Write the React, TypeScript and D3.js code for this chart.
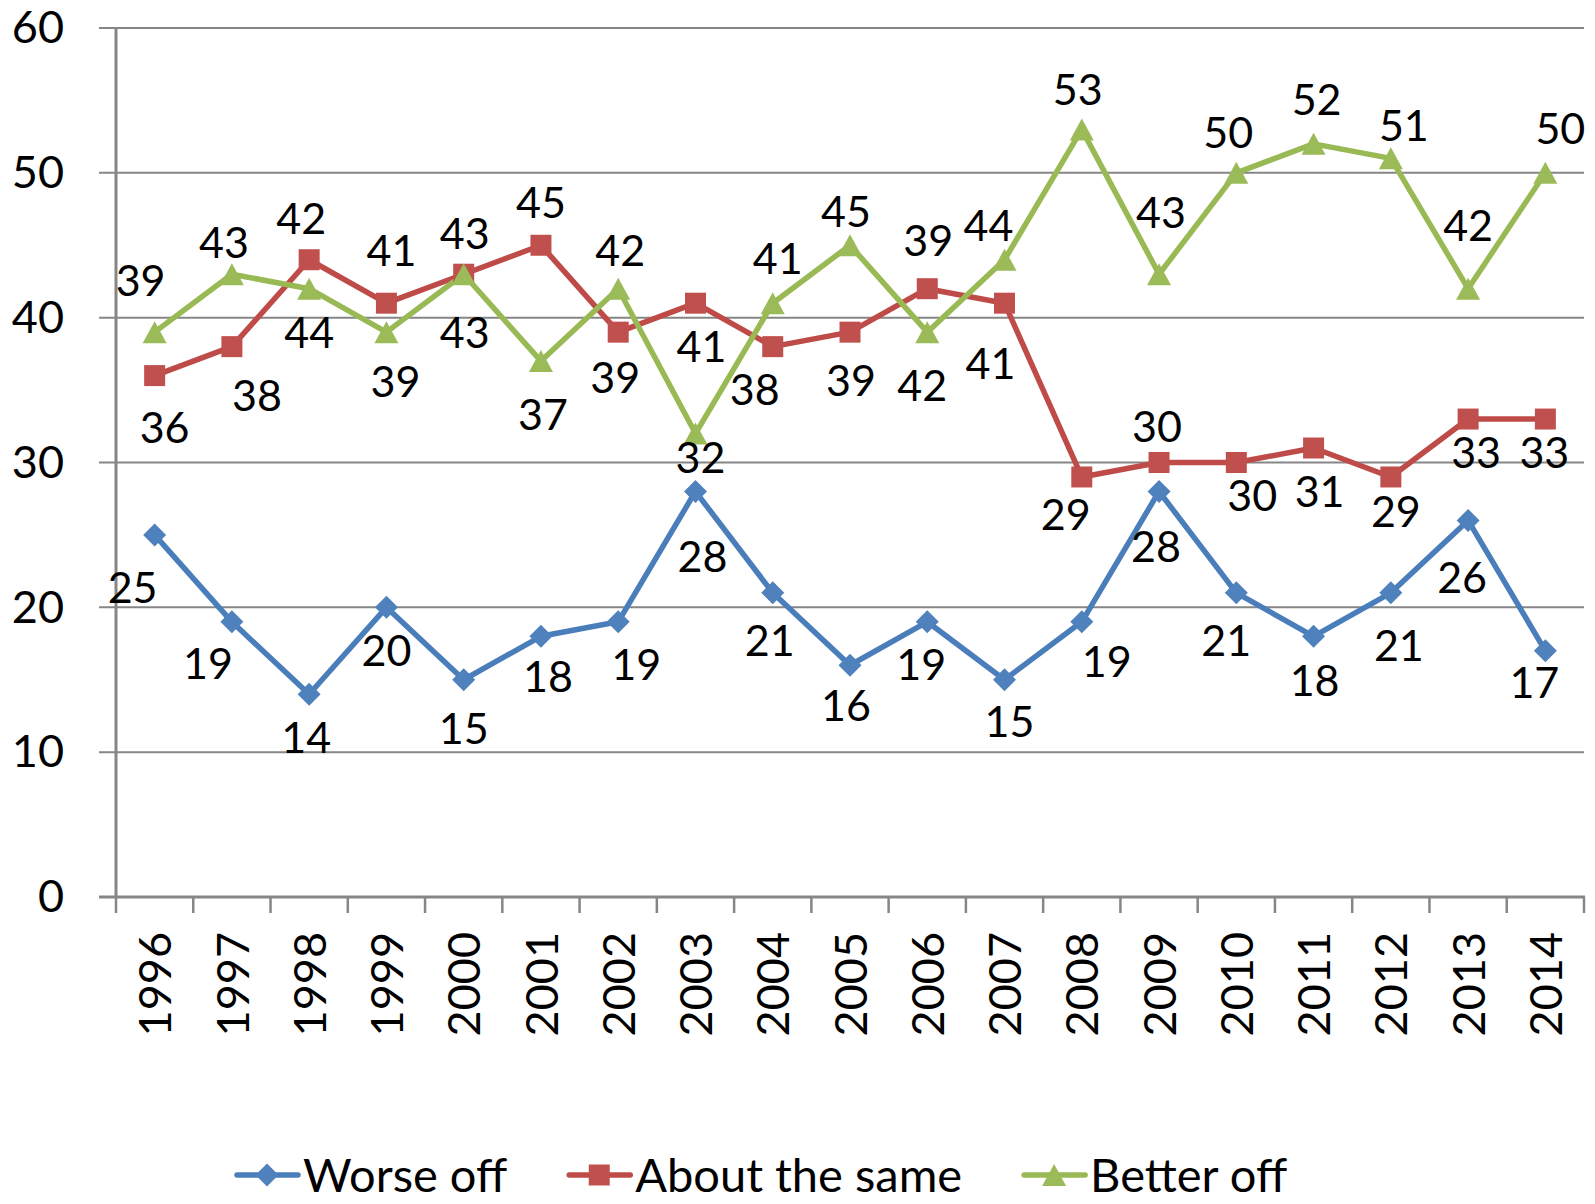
import React from 'react';
import * as d3 from 'd3';

const years = ['1996','1997','1998','1999','2000','2001','2002','2003','2004','2005','2006','2007','2008','2009','2010','2011','2012','2013','2014'];
const worseOff = [25,19,14,20,15,18,19,28,21,16,19,15,19,28,21,18,21,26,17];
const aboutSame = [36,38,44,41,43,45,39,41,38,39,42,41,29,30,30,31,29,33,33];
const betterOff = [39,43,42,39,43,37,42,32,41,45,39,44,53,43,50,52,51,42,50];
const yTicks = [0,10,20,30,40,50,60];
const seriesNames = ['Worse off','About the same','Better off'];

// data label placement offsets (layout only, pixels relative to marker)
const worseDx = [-22,-24,-3,0,0,7,18,7,-3,-4,-6,5,25,-3,-10,1,8,-6,-11];
const worseDy = [53,42,43,43,49,40,43,65,48,40,43,42,40,55,48,44,53,57,32];
const sameDx = [10,25,0,5,1,0,-3,6,-18,1,-5,-14,-16,-2,16,6,5,8,-1];
const sameDy = [52,49,73,-53,-41,-43,45,43,43,48,97,60,38,-36,33,44,35,33,33];
const betterDx = [-14,-8,-8,9,1,2,2,5,5,-4,1,-16,-4,2,-8,3,13,0,15];
const betterDy = [-52,-32,-70,49,58,53,-38,24,-45,-34,-92,-34,-40,-62,-40,-44,-33,-63,-44];

const W = 1595, H = 1204;
const FONT = 'Lato, "Open Sans", sans-serif';
const FS = 43;
const AX_FS = 45;
const LEG_FS = 47;
const GRID = '#868686';

const lineColors = ['#4A7EBB', '#BE4B48', '#98B954'];
const markColors = ['#4F81BD', '#C0504D', '#9BBB59'];

function markerPath(kind: number, cx: number, cy: number): string {
  if (kind === 0) {
    const r = 11.5;
    return `M${cx},${cy - r}L${cx + r},${cy}L${cx},${cy + r}L${cx - r},${cy}Z`;
  }
  if (kind === 1) {
    const h = 10.5;
    return `M${cx - h},${cy - h}H${cx + h}V${cy + h}H${cx - h}Z`;
  }
  const hw = 12, hh = 11;
  return `M${cx},${cy - hh}L${cx + hw},${cy + hh}L${cx - hw},${cy + hh}Z`;
}

function measure(text: string, size: number): number {
  const c = document.createElement('canvas').getContext('2d');
  if (!c) return text.length * size * 0.5;
  c.font = `${size}px Lato`;
  return c.measureText(text).width;
}

export default function App() {
  const x = d3.scaleBand<string>().domain(years).range([116, 1584]).padding(0);
  const y = d3.scaleLinear().domain([0, 60]).range([897, 28]);
  const cx = (yr: string) => (x(yr) as number) + x.bandwidth() / 2;

  const series = [
    { vals: worseOff, dx: worseDx, dy: worseDy },
    { vals: aboutSame, dx: sameDx, dy: sameDy },
    { vals: betterOff, dx: betterDx, dy: betterDy },
  ];

  const line = d3.line<number>()
    .x((_, i) => cx(years[i]))
    .y((v) => y(v));

  // legend layout
  const legY = 1175;
  let lx = 237;
  const legendItems = seriesNames.map((name, i) => {
    const item = { name, i, x: lx };
    lx += 66 + measure(name, LEG_FS) + 62;
    return item;
  });

  const boundaries = d3.range(years.length + 1).map((i) => 116 + i * x.bandwidth());

  return (
    <svg width={W} height={H} style={{ position: 'absolute', left: 0, top: 0, background: '#fff' }}
      fontFamily={FONT}>
      <rect x={0} y={0} width={W} height={H} fill="#fff" />
      {/* gridlines */}
      {yTicks.filter((t) => t !== 0).map((t) => (
        <line key={t} x1={99} x2={1584} y1={y(t)} y2={y(t)} stroke={GRID} strokeWidth={2} />
      ))}
      {/* axes */}
      <line x1={116} x2={116} y1={y(60)} y2={y(0)} stroke={GRID} strokeWidth={3} />
      <line x1={99} x2={1585} y1={y(0)} y2={y(0)} stroke={GRID} strokeWidth={3} />
      {boundaries.map((bx, i) => (
        <line key={i} x1={bx} x2={bx} y1={y(0)} y2={y(0) + 16} stroke={GRID} strokeWidth={2.5} />
      ))}
      {/* y tick labels */}
      {yTicks.map((t) => (
        <text key={t} x={64} y={y(t) + AX_FS * 0.36 - 1} textAnchor="end" fontSize={AX_FS} fill="#000">{t}</text>
      ))}
      {/* x tick labels */}
      {years.map((yr) => (
        <text key={yr} transform={`translate(${cx(yr) + AX_FS * 0.37},932) rotate(-90)`} textAnchor="end"
          fontSize={AX_FS} fill="#000">{yr}</text>
      ))}
      {/* lines */}
      {series.map((s, si) => (
        <path key={si} d={line(s.vals) || ''} fill="none" stroke={lineColors[si]} strokeWidth={5.5}
          strokeLinejoin="round" strokeLinecap="round" />
      ))}
      {/* markers */}
      {series.map((s, si) => s.vals.map((v, i) => (
        <path key={`${si}-${i}`} d={markerPath(si, cx(years[i]), y(v))} fill={markColors[si]} />
      )))}
      {/* data labels */}
      {series.map((s, si) => s.vals.map((v, i) => (
        <text key={`l${si}-${i}`} x={cx(years[i]) + s.dx[i]} y={y(v) + s.dy[i] + FS * 0.36}
          textAnchor="middle" fontSize={FS} fill="#000">{v}</text>
      )))}
      {/* legend */}
      {legendItems.map((it) => (
        <g key={it.name}>
          <line x1={it.x} x2={it.x + 61} y1={legY} y2={legY} stroke={lineColors[it.i]} strokeWidth={5.5} strokeLinecap="round" />
          <path d={markerPath(it.i, it.x + 30, legY)} fill={markColors[it.i]} />
          <text x={it.x + 66} y={legY + LEG_FS * 0.36} fontSize={LEG_FS} fill="#000">{it.name}</text>
        </g>
      ))}
    </svg>
  );
}
